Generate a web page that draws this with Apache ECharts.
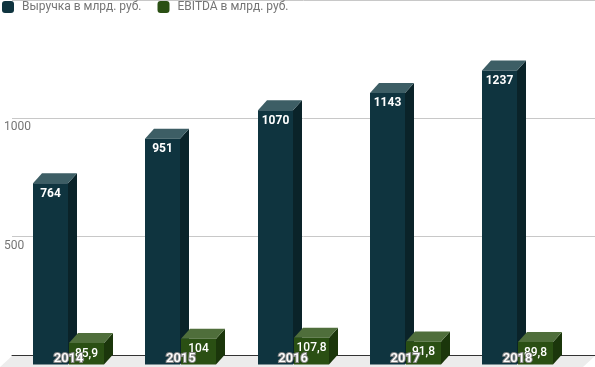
<!DOCTYPE html>
<html><head><meta charset="utf-8">
<style>html,body{margin:0;padding:0;background:#fff}#c{width:595px;height:367px}</style>
<script src="https://cdn.jsdelivr.net/npm/echarts@6/dist/echarts.min.js"></script>
</head><body><div id="c"></div>
<script>
var categories = ['2014','2015','2016','2017','2018'];
var revenue = [764,951,1070,1143,1237];
var ebitda = [85.9,104,107.8,91.8,89.8];
var revenueName = 'Выручка в млрд. руб.';
var ebitdaName = 'EBITDA в млрд. руб.';
var revColors = {front:'#0f343f', top:'#3d5e65', side:'#0a2329'};
var ebColors = {front:'#2a4f13', top:'#4f6e3b', side:'#1b360b'};
var DX = 9, DY = 10, BAR_W = 35;

function box(colors, offset, font, lift, labelGap){
  return function(params, api){
    var p = api.coord([api.value(0), api.value(1)]);
    var base = api.coord([api.value(0), 0]);
    var x = Math.round(p[0] + offset);
    var w = BAR_W, y = p[1] - lift, b = base[1] - 1;
    var t = String(api.value(1)).replace('.',',');
    return {type:'group', children:[
      {type:'polygon', shape:{points:[[x+w,y],[x+w+DX,y-DY],[x+w+DX,b-DY],[x+w,b]]}, style:{fill:colors.side}},
      {type:'polygon', shape:{points:[[x,y],[x+DX,y-DY],[x+w+DX,y-DY],[x+w,y]]}, style:{fill:colors.top}},
      {type:'rect', shape:{x:x,y:y,width:w,height:b-y}, style:{fill:colors.front}},
      {type:'text', x:x+w/2, y:y+labelGap, style:{text:t, fill:'#fff', font:font, align:'center', verticalAlign:'middle'}}
    ]};
  };
}
function rows(vals){ return vals.map(function(v,i){return [i,v];}); }

var chart = echarts.init(document.getElementById('c'), null, {renderer:'canvas'});
chart.setOption({
  animation:false,
  textStyle:{fontFamily:'Roboto'},
  legend:{left:2, top:1, padding:0, itemWidth:12, itemHeight:12, itemGap:16,
    textStyle:{color:'#757575', fontSize:12, fontFamily:'Roboto', padding:[0,0,0,3]},
    itemStyle:{borderWidth:0},
    data:[{name:revenueName, icon:'roundRect'},{name:ebitdaName, icon:'roundRect'}]},
  graphic:[{type:'polygon', z:-1, silent:true,
    shape:{points:[[12,356],[595,356],[583,367],[0,367]]}, style:{fill:'#ececec'}}],
  grid:[
    {left:12, right:0, top:-2, bottom:12},
    {left:12.4, width:561.25, top:7.75, bottom:1.5}
  ],
  xAxis:[
    {gridIndex:0, type:'category', data:categories, axisTick:{show:false}, axisLabel:{show:false},
     axisLine:{lineStyle:{color:'#333', width:1}}},
    {gridIndex:1, type:'category', data:categories, z:10, axisTick:{show:false}, axisLine:{show:false},
     axisLabel:{inside:true, margin:0, color:'#fff', fontSize:13, fontFamily:'Roboto', fontWeight:500,
       textBorderColor:'#8a8a8a', textBorderWidth:2, verticalAlign:'bottom'}}
  ],
  yAxis:[
    {gridIndex:0, type:'value', min:0, max:1500, interval:500, axisLine:{show:false}, axisTick:{show:false},
     splitLine:{lineStyle:{color:'#c8c8c8', width:1}},
     axisLabel:{inside:true, showMinLabel:false, showMaxLabel:false, margin:-8, color:'#757575', fontSize:12, fontFamily:'Roboto',
       align:'left', verticalAlign:'top', padding:[3,0,0,0], formatter:function(v){return String(v);}}},
    {gridIndex:1, type:'value', min:0, max:1500, interval:500, show:false, splitLine:{show:false}}
  ],
  series:[
    {name:revenueName, type:'custom', xAxisIndex:1, yAxisIndex:1, z:3, clip:false,
     itemStyle:{color:revColors.front}, renderItem:box(revColors,-35.5,'bold 12px Roboto',0,10.5), data:rows(revenue), encode:{x:0,y:1}},
    {name:ebitdaName, type:'custom', xAxisIndex:1, yAxisIndex:1, z:4, clip:false,
     itemStyle:{color:ebColors.front}, renderItem:box(ebColors,0.5,'500 12px Roboto',2,10.5), data:rows(ebitda), encode:{x:0,y:1}}
  ]
});
</script></body></html>
